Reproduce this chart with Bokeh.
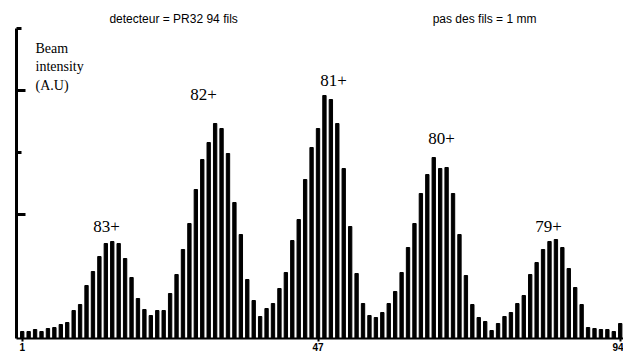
from bokeh.plotting import figure
from bokeh.models import Range1d, FixedTicker
from bokeh.core.properties import value
from bokeh.embed import file_html
from bokeh.resources import INLINE

# ---- data -------------------------------------------------------------
wires = list(range(1, 95))
intensity = [7, 7, 9, 7, 10, 11, 14, 16, 28, 34,
             53, 67, 82, 95, 97, 95, 80, 61, 40, 29,
             23, 28, 28, 45, 64, 89, 115, 149, 179, 196,
             215, 210, 185, 136, 104, 59, 38, 22, 30, 35,
             50, 66, 98, 119, 159, 191, 210, 243, 239, 215,
             170, 112, 65, 35, 23, 21, 26, 35, 47, 66,
             91, 115, 145, 164, 181, 170, 171, 145, 104, 63,
             34, 21, 17, 8, 15, 22, 26, 35, 43, 64,
             76, 89, 97, 99, 91, 70, 51, 34, 11, 10,
             9, 9, 7, 15]

x_tick_positions = [1, 47, 94]
x_tick_labels = ["1", "47", "94"]

y_major_ticks = [124, 248]
y_minor_ticks = [186, 310]

peak_labels = ["83+", "82+", "81+", "80+", "79+"]
peak_label_x = [14.1, 29.2, 49.4, 66.2, 82.85]
peak_label_y = [112, 244, 258, 200, 112]

header_texts = ["detecteur = PR32  94 fils", "pas des fils = 1 mm"]
header_x = [24.8, 72.9]
header_y = [320, 320]

ylabel_lines = ["Beam", "intensity", "(A.U)"]
ylabel_x = [3.07, 3.07, 3.07]
ylabel_y = [290, 272, 253]

# ---- figure -----------------------------------------------------------
p = figure(width=623, height=353,
           x_range=Range1d(0.11, 94.51), y_range=Range1d(0, 338),
           output_backend="svg", toolbar_location=None,
           min_border_left=16, min_border_right=0,
           min_border_top=0, min_border_bottom=15)
p.title.visible = False
p.outline_line_color = None
p.xgrid.visible = False
p.ygrid.visible = False
p.background_fill_color = "white"
p.border_fill_color = "white"

p.vbar(x=wires, top=intensity, width=0.52, color="black")

# x axis
xa = p.xaxis[0]
xa.ticker = FixedTicker(ticks=x_tick_positions, minor_ticks=[])
xa.major_label_overrides = {t: l for t, l in zip(x_tick_positions, x_tick_labels)}
xa.axis_line_width = 2
xa.axis_line_color = "black"
xa.major_tick_in = 0
xa.major_tick_out = 3
xa.major_tick_line_width = 2
xa.major_label_standoff = 1
xa.major_label_text_font = "Liberation Sans"
xa.major_label_text_font_style = "bold"
xa.major_label_text_font_size = "10px"
xa.major_label_text_color = "black"

# y axis (ticks only, no numbers in the reference)
ya = p.yaxis[0]
ya.ticker = FixedTicker(ticks=y_major_ticks, minor_ticks=y_minor_ticks)
ya.bounds = (0, 310)
ya.axis_line_width = 3
ya.axis_line_color = "black"
ya.major_tick_in = 9
ya.major_tick_out = 0
ya.major_tick_line_width = 3
ya.minor_tick_in = 5
ya.minor_tick_out = 0
ya.minor_tick_line_width = 3
ya.major_label_text_font_size = "0px"
ya.major_label_text_color = None
ya.major_label_standoff = 0

# texts
p.text(x=header_x, y=header_y, text=header_texts,
       text_font=value("Liberation Sans"), text_font_size="12px",
       text_align="center", text_baseline="middle", text_color="black")

p.text(x=ylabel_x, y=ylabel_y, text=ylabel_lines,
       text_font=value("Liberation Serif"), text_font_size="14px",
       text_align="left", text_baseline="middle", text_color="black")

p.text(x=peak_label_x, y=peak_label_y, text=peak_labels,
       text_font=value("Liberation Serif"), text_font_size="17px",
       text_align="center", text_baseline="middle", text_color="black")

open("out.html", "w").write(file_html(p, INLINE))
